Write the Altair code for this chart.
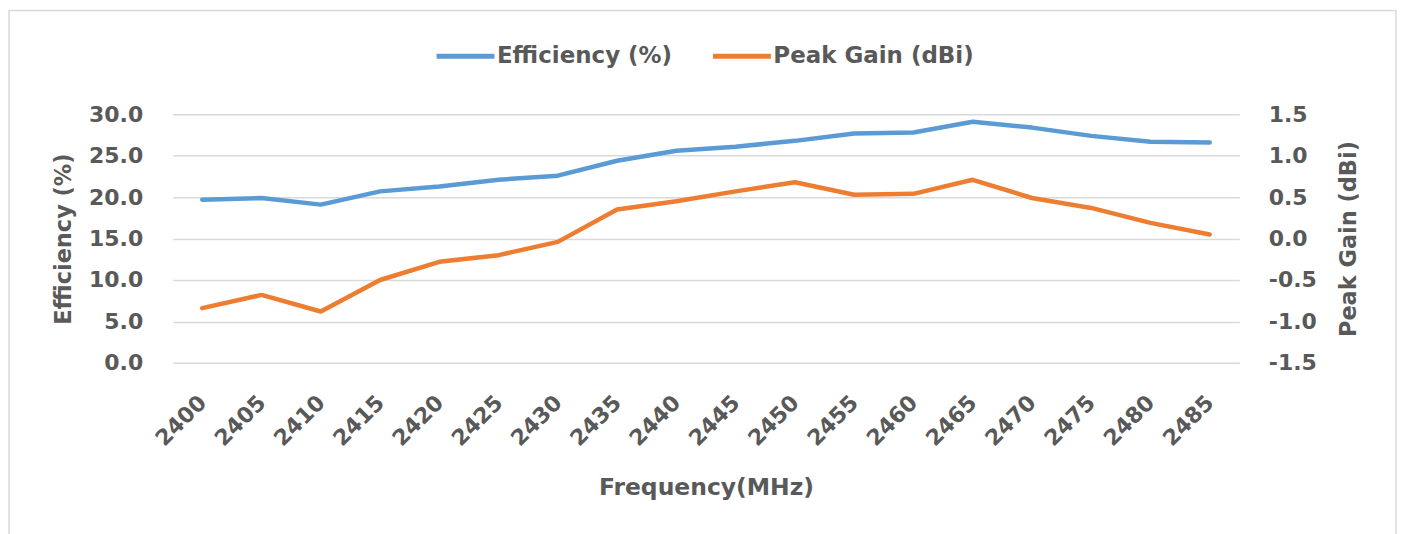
import altair as alt
import pandas as pd

freq = [2400, 2405, 2410, 2415, 2420, 2425, 2430, 2435, 2440,
        2445, 2450, 2455, 2460, 2465, 2470, 2475, 2480, 2485]
efficiency = [19.7, 19.9, 19.1, 20.7, 21.3, 22.1, 22.6, 24.4, 25.6,
              26.1, 26.8, 27.7, 27.8, 29.1, 28.4, 27.4, 26.7, 26.6]
peak_gain = [-0.84, -0.68, -0.88, -0.50, -0.28, -0.20, -0.04, 0.35, 0.45,
             0.57, 0.68, 0.53, 0.54, 0.71, 0.49, 0.37, 0.19, 0.05]
series_names = ["Efficiency (%)", "Peak Gain (dBi)"]
series_colors = ["#5b9bd5", "#ed7d31"]
eff_ticks = [0, 5, 10, 15, 20, 25, 30]
gain_ticks = [-1.5, -1.0, -0.5, 0.0, 0.5, 1.0, 1.5]

df = pd.DataFrame({"freq": freq, "eff": efficiency, "gain": peak_gain})

FONT = "DejaVu Sans"
TXT = "#595959"
GRID = "#d9d9d9"
LBL = "replace(format(datum.value, '.1f'), '\u2212', '-')"

x_enc = alt.X(
    "freq:O",
    scale=alt.Scale(type="point", padding=0.5),
    axis=alt.Axis(
        title="Frequency(MHz)", labelAngle=315, labelAlign="right",
        labelBaseline="middle", labelPadding=36, ticks=False, domain=False,
        grid=False, titlePadding=26, titleFontSize=23.5,
    ),
)

color_scale = alt.Scale(domain=series_names, range=series_colors)
legend = alt.Legend(
    title=None, orient="none", legendX=262, legendY=-90, direction="horizontal",
    symbolType="stroke", symbolSize=3364, symbolStrokeWidth=5,
    labelOffset=0, columnPadding=30, labelFontSize=23, labelLimit=0,
)

eff_line = alt.Chart(df).mark_line(strokeWidth=4.5, strokeCap="round", strokeJoin="round").encode(
    x=x_enc,
    y=alt.Y("eff:Q", scale=alt.Scale(domain=[0, 30], nice=False, zero=False),
            axis=alt.Axis(title="Efficiency (%)", values=eff_ticks, labelExpr=LBL,
                          orient="left", ticks=False, domain=False, grid=True,
                          gridColor=GRID, gridWidth=1.5, labelPadding=30,
                          titlePadding=13)),
    color=alt.Color("s:N", scale=color_scale, legend=legend),
).transform_calculate(s="'Efficiency (%)'")

gain_line = alt.Chart(df).mark_line(strokeWidth=4.5, strokeCap="round", strokeJoin="round").encode(
    x=x_enc,
    y=alt.Y("gain:Q", scale=alt.Scale(domain=[-1.5, 1.5], nice=False, zero=False),
            axis=alt.Axis(title="Peak Gain (dBi)", values=gain_ticks, labelExpr=LBL,
                          orient="right", ticks=False, domain=False, grid=False,
                          labelPadding=29, titlePadding=21, titleAngle=270,
                          titleBaseline="top")),
    color=alt.Color("s:N", scale=color_scale, legend=legend),
).transform_calculate(s="'Peak Gain (dBi)'")

frame = alt.Chart(alt.Data(values=[{}])).mark_rect(
    fill="transparent", stroke=GRID, strokeWidth=1.5
).encode(
    x=alt.value(-164), x2=alt.value(1226), y=alt.value(-104), y2=alt.value(430)
)

chart = alt.layer(frame, eff_line, gain_line).resolve_scale(
    y="independent"
).properties(
    width=1069, height=249,
    padding={"left": 0, "top": 1, "right": 0, "bottom": 0},
).configure_view(stroke=None).configure_axis(
    labelFont=FONT, labelFontSize=22, labelFontWeight="bold", labelColor=TXT,
    titleFont=FONT, titleFontSize=22.5, titleFontWeight="bold", titleColor=TXT,
).configure_legend(
    labelFont=FONT, labelFontWeight="bold", labelColor=TXT,
)

chart.save("out.html", embed_options={"renderer": "svg", "actions": False})
